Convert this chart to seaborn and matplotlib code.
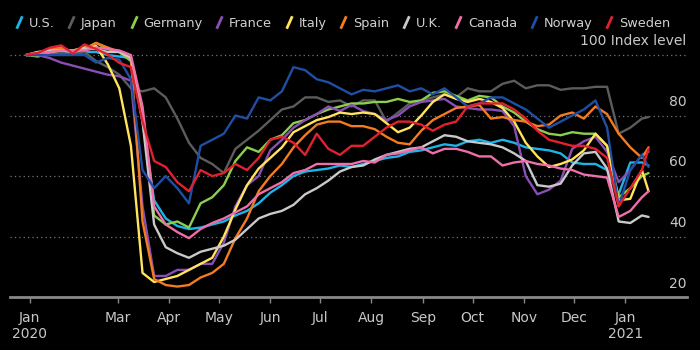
import matplotlib
matplotlib.use('Agg')
from matplotlib import pyplot as plt
from matplotlib.lines import Line2D
import matplotlib.transforms as mtransforms
import pandas as pd
import seaborn as sns

# weekly samples, Jan 6 2020 .. Jan 11 2021, plus the last reading
dates = pd.date_range('2020-01-06', periods=54, freq='7D').append(pd.DatetimeIndex(['2021-01-15']))

countries = ['U.S.', 'Japan', 'Germany', 'France', 'Italy', 'Spain', 'U.K.', 'Canada', 'Norway', 'Sweden']
colors = ['#1db4e8', '#5c5c5c', '#8ccf4d', '#8a4fb5', '#ffe45c', '#f47b20', '#c9c9c9', '#f06ea9', '#1f4fa5', '#e3202d']

us = [100, 100, 100.5, 100.5, 100.5, 101, 101, 100, 99.5, 99,
      78, 52, 46, 43.5, 42.5, 43, 44, 45, 47, 48.5,
      51, 54.5, 57, 60, 61.5, 62, 62.5, 63.5, 63, 64,
      65, 66, 66.5, 68, 68.5, 69.5, 70.5, 70, 71.5, 72,
      71, 72, 71, 69.5, 69, 68.5, 67.5, 64.5, 64, 64,
      62, 54, 64.5, 64.5, 63.5]
japan = [100, 100.5, 101, 100.5, 100.5, 101, 98, 96, 93.5, 89,
         88, 89, 86, 79, 71, 66, 64, 61, 69, 72,
         75, 78.5, 82, 83, 86, 86, 84.5, 85, 83, 85,
         85, 78, 81, 84, 85, 86, 87, 86, 89, 88,
         88, 90.5, 91.5, 89, 90, 90, 88.5, 89, 89, 89.5,
         89.5, 74, 76, 79, 79.5]
germany = [100, 99.5, 101, 102.5, 101, 102, 104, 102, 101, 98,
           80, 47, 44, 45, 43, 51, 53, 57, 65, 69.5,
           68, 72, 73.5, 77.5, 78.5, 80.5, 82, 83, 84, 84,
           84.5, 84.5, 85.5, 84.5, 85, 87.5, 88, 86.5, 85, 86.5,
           86, 83, 81, 78, 75.5, 74, 73.5, 74.5, 74, 74,
           70, 53, 56, 60, 61]
france = [100, 100, 99, 97.5, 96.5, 95.5, 94.5, 93.5, 93, 91.5,
          50, 27, 27, 29, 29, 31, 31, 38, 50, 57,
          60, 68.5, 72, 76, 78.5, 80.5, 83, 81.5, 83.5, 81.5,
          80.5, 78.5, 80, 83, 84.5, 85, 85.5, 83, 82.5, 82,
          82, 81.5, 76.5, 60, 54, 55.5, 58.5, 69, 71.5, 73,
          68, 58, 62, 67, 68]
italy = [100, 101, 101, 101.5, 101.5, 102.5, 103, 97, 89, 70,
         28, 25, 26, 27, 29, 31, 33, 40, 49, 57,
         62.5, 66, 69.5, 74.5, 76.5, 78.5, 79.5, 81, 80.5, 81,
         80.5, 77.5, 74.5, 76, 80, 84.5, 87, 85.5, 84.5, 85.5,
         84.5, 82.5, 78, 71, 66.5, 63, 64, 65.5, 68.5, 74,
         70, 52, 52.5, 62, 55]
spain = [100, 100.5, 102, 102.5, 101, 102, 104, 102.5, 101, 99,
         45, 26, 24, 23.5, 24, 26.5, 28, 31, 39.5, 46,
         55, 60, 64, 69.5, 73.5, 77, 78, 78, 76.5, 76.5,
         75.5, 73, 71, 70.5, 75, 78.5, 80.5, 82.5, 83, 83.5,
         79, 79.5, 78.5, 78, 76.5, 77, 80, 81, 79, 83,
         80.5, 74, 69.5, 66, 69.5]
uk = [100, 101, 101.5, 101.5, 101, 102, 102, 101, 101, 99,
      78, 44, 36.5, 34.5, 33, 35, 36, 37, 39, 42.5,
      46, 47.5, 48.5, 50.5, 54, 56, 58.5, 61.5, 63, 63.5,
      65.5, 67, 68, 69, 69.5, 71.5, 73.5, 73, 71.5, 71,
      70.5, 69.5, 67.5, 65, 57, 56.5, 57.5, 63.5, 67.5, 68,
      62.5, 45, 44.5, 47, 46.5]
canada = [100, 100.5, 101, 101.5, 101.5, 101.5, 102.5, 102, 101.5, 100,
          83, 50, 44, 41.5, 39.5, 42.5, 44.5, 46, 48, 50,
          54, 56, 58, 61, 62, 64, 64, 64, 64, 65,
          64.5, 67, 67.5, 68.5, 69.5, 67.5, 69, 69, 68, 66.5,
          66.5, 63.5, 64.5, 65, 64, 63.5, 62.5, 62, 60.5, 60,
          59.5, 46.5, 48.5, 53, 55]
norway = [100, 100, 100, 100, 100, 100, 97.5, 99, 98.5, 92,
          62, 56, 60, 56, 51, 70, 72, 74, 80, 79,
          86, 85, 88, 96, 95, 92, 91, 89, 87, 88.5,
          88, 89, 90, 88, 89, 87, 89, 86, 83, 84,
          86, 86, 84, 82, 79, 76, 78, 80, 82, 85,
          76, 50, 62, 67, 63]
sweden = [100.2, 100.7, 102.4, 103.2, 100.5, 103.5, 102, 100.2, 97.4, 96,
          78, 65, 63, 58, 55, 62, 60, 61, 64, 62,
          66, 72, 73, 71, 67, 74, 69, 67, 70, 70,
          73, 76, 78, 78, 77, 75, 77, 78, 83, 84,
          84, 84, 82, 79, 75, 72, 71, 70, 70, 69,
          66, 50, 56, 62, 69]

grid_levels = [40, 60, 80, 100]
level_labels = ['20', '40', '60', '80', '100 Index level']
label_levels = [20, 40, 60, 80, 100]

tick_dates = pd.to_datetime(['2020-01-08', '2020-03-01', '2020-04-01', '2020-05-01', '2020-06-01',
                             '2020-07-01', '2020-08-01', '2020-09-01', '2020-10-01', '2020-11-01',
                             '2020-12-01', '2021-01-01'])
tick_labels = ['Jan\n2020', 'Mar', 'Apr', 'May', 'Jun', 'Jul', 'Aug', 'Sep', 'Oct', 'Nov', 'Dec', 'Jan\n2021']

wide = pd.DataFrame({'date': dates, 'U.S.': us, 'Japan': japan, 'Germany': germany,
                     'France': france, 'Italy': italy, 'Spain': spain, 'U.K.': uk,
                     'Canada': canada, 'Norway': norway, 'Sweden': sweden})
df = wide.melt(id_vars='date', var_name='country', value_name='level')

sns.set_theme(style='dark', rc={'axes.facecolor': 'black', 'figure.facecolor': 'black'})
plt.rcParams['font.family'] = ['DejaVu Sans']

fig = plt.figure(figsize=(7, 3.5), dpi=100)
ax = fig.add_axes([0.014, 0.151, 0.967, 0.735])

for v in grid_levels:
    ax.axhline(v, color='#777777', lw=0.9, ls=(0, (1, 2.5)), zorder=0)

sns.lineplot(data=df, x='date', y='level', hue='country', hue_order=countries,
             palette=dict(zip(countries, colors)), linewidth=1.7, legend=False, ax=ax)

ax.set_ylim(20, 105)
ax.set_xlim(pd.Timestamp('2019-12-27'), pd.Timestamp('2021-02-07'))
ax.set_xticks(tick_dates)
ax.set_xticklabels(tick_labels)
ax.set_yticks([])
ax.set_xlabel('')
ax.set_ylabel('')
ax.tick_params(axis='x', bottom=True, length=4, width=1, color='#888888',
               labelcolor='#c8c8c8', labelsize=10, pad=6)
for s in ['top', 'left', 'right']:
    ax.spines[s].set_visible(False)
ax.spines['bottom'].set_color('#888888')
ax.spines['bottom'].set_linewidth(2)

trans = mtransforms.blended_transform_factory(ax.transAxes, ax.transData)
for v, lab in zip(label_levels, level_labels):
    ax.text(1.0, v + 4.5, lab, transform=trans, ha='right', va='center',
            color='#c8c8c8', fontsize=10)

handles = [Line2D([], [], color=c, marker=[(-0.45, -1), (0.45, 1)], markersize=9,
                  markeredgewidth=2, markerfacecolor=c, linestyle='none') for c in colors]
fig.legend(handles, countries, loc='upper left', bbox_to_anchor=(0.005, 0.985), ncol=10,
           frameon=False, handlelength=0.6, handletextpad=0.45, columnspacing=1.0,
           labelcolor='#d0d0d0', fontsize=9.3)

fig.savefig('out.png', dpi=100, facecolor='black')
